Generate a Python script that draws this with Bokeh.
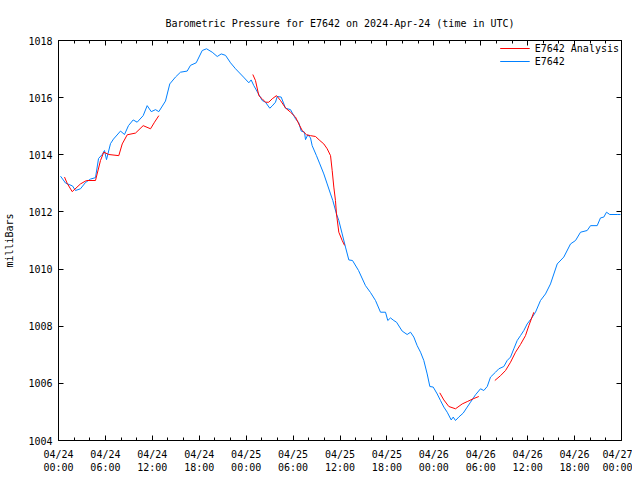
import math
from bokeh.plotting import figure
from bokeh.models import (Range1d, LinearAxis, FixedTicker, Legend, LegendItem,
                          ColumnDataSource, Title)
from bokeh.embed import file_html
from bokeh.resources import INLINE

# ---- data (hours since 2024-04-24 00:00 UTC, pressure in mb) ----
obs_hours = [0.26, 0.9, 1.79, 2.17, 2.81, 3.45, 4.09, 4.73, 5.12, 5.59, 5.88, 6.14, 6.65, 7.03,
             7.93, 8.44, 8.95, 9.55, 10.06, 10.83, 11.34, 11.86, 12.41, 12.83, 13.68, 14.23,
             14.96, 15.6, 16.46, 16.88, 17.61, 18.38, 18.93, 19.66, 20.3, 20.81, 21.36, 22.0,
             22.64, 23.66, 24.34, 24.64, 24.98, 25.62, 26.05, 26.47, 27.02, 27.33, 27.75, 27.97,
             28.48, 29.03, 29.67, 30.31, 30.73, 31.04, 31.46, 31.59, 31.88, 32.23, 32.44, 32.99,
             33.42, 33.93, 34.36, 34.79, 35.08, 35.55, 35.85, 36.28, 36.7, 37.13, 37.6, 38.37,
             39.26, 39.9, 40.54, 41.18, 41.82, 42.11, 42.46, 42.88, 43.23, 43.95, 44.59, 45.02,
             45.44, 45.87, 46.3, 46.72, 47.15, 47.49, 47.92, 48.43, 48.85, 49.28, 49.71, 50.22,
             50.48, 50.77, 51.19, 51.76, 52.27, 52.69, 53.33, 53.97, 54.39, 54.83, 55.25, 55.89,
             56.31, 56.95, 57.38, 57.81, 58.23, 58.66, 59.08, 59.51, 59.94, 60.45, 61.0, 61.64,
             62.28, 62.92, 63.78, 64.62, 65.48, 66.12, 66.76, 67.61, 68.04, 68.89, 69.31, 69.74,
             70.08, 70.5, 71.53, 71.87]
obs_mb = [1013.25, 1013.01, 1012.91, 1012.75, 1012.81, 1013.03, 1013.15, 1013.2, 1013.87, 1014.01,
          1014.15, 1013.83, 1014.39, 1014.55, 1014.83, 1014.71, 1015.02, 1015.22, 1015.14, 1015.37,
          1015.72, 1015.51, 1015.58, 1015.51, 1015.88, 1016.48, 1016.72, 1016.89, 1016.93, 1017.13,
          1017.22, 1017.65, 1017.71, 1017.59, 1017.44, 1017.53, 1017.48, 1017.22, 1017.01, 1016.72,
          1016.52, 1016.62, 1016.42, 1016.11, 1015.9, 1015.84, 1015.63, 1015.71, 1015.84, 1016.04,
          1016.02, 1015.63, 1015.58, 1015.26, 1015.12, 1014.83, 1014.79, 1014.53, 1014.7, 1014.59,
          1014.32, 1013.97, 1013.68, 1013.33, 1012.98, 1012.63, 1012.4, 1011.93, 1011.7, 1011.23,
          1010.77, 1010.32, 1010.3, 1009.95, 1009.42, 1009.18, 1008.9, 1008.49, 1008.49, 1008.2,
          1008.29, 1008.2, 1008.14, 1007.83, 1007.71, 1007.79, 1007.62, 1007.32, 1007.09, 1006.8,
          1006.33, 1005.89, 1005.87, 1005.63, 1005.4, 1005.17, 1004.99, 1004.72, 1004.82, 1004.7,
          1004.82, 1004.96, 1005.17, 1005.34, 1005.6, 1005.81, 1005.75, 1005.89, 1006.22, 1006.39,
          1006.51, 1006.59, 1006.8, 1006.92, 1007.21, 1007.5, 1007.67, 1007.85, 1008.08, 1008.26,
          1008.49, 1008.9, 1009.13, 1009.48, 1010.18, 1010.42, 1010.88, 1011.0, 1011.29, 1011.35,
          1011.52, 1011.52, 1011.79, 1011.82, 1011.99, 1011.91, 1011.91, 1011.91]

# analysis runs (separate segments)
ana1_hours = [0.77, 1.11, 1.75, 2.81, 3.58, 4.73, 5.37, 5.79, 6.43, 7.71, 8.15, 8.79, 9.85,
              10.83, 11.77, 12.28, 12.83]
ana1_mb = [1013.22, 1013.0, 1012.71, 1012.98, 1013.1, 1013.1, 1013.8, 1014.09, 1014.01, 1013.97,
           1014.38, 1014.7, 1014.76, 1015.02, 1014.91, 1015.14, 1015.37]
ana2_hours = [24.85, 25.19, 25.62, 26.05, 26.47, 26.89, 27.33, 27.88, 28.39, 29.03, 29.67, 30.31,
              30.73, 31.17, 31.72, 32.23, 32.87, 33.42, 33.93, 34.36, 34.79, 35.0, 35.21, 35.42,
              35.55, 35.85, 36.28, 36.58]
ana2_mb = [1016.81, 1016.6, 1016.07, 1015.96, 1015.84, 1015.84, 1015.96, 1016.07, 1015.9, 1015.64,
           1015.49, 1015.32, 1015.08, 1014.85, 1014.7, 1014.67, 1014.64, 1014.5, 1014.38, 1014.21,
           1013.97, 1013.45, 1012.87, 1012.4, 1011.93, 1011.29, 1011.0, 1010.83]
ana3_hours = [48.76, 49.28, 49.92, 50.77, 51.63, 52.34, 53.03, 53.75]
ana3_mb = [1005.67, 1005.42, 1005.19, 1005.11, 1005.28, 1005.37, 1005.46, 1005.54]
ana4_hours = [55.8, 56.53, 57.17, 57.81, 58.45, 59.08, 59.72, 60.15, 60.79]
ana4_mb = [1006.1, 1006.27, 1006.45, 1006.74, 1007.09, 1007.36, 1007.67, 1008.02, 1008.49]

x_ticks = [0, 6, 12, 18, 24, 30, 36, 42, 48, 54, 60, 66, 72]
x_tick_labels = ["04/24\n00:00", "04/24\n06:00", "04/24\n12:00", "04/24\n18:00",
                 "04/25\n00:00", "04/25\n06:00", "04/25\n12:00", "04/25\n18:00",
                 "04/26\n00:00", "04/26\n06:00", "04/26\n12:00", "04/26\n18:00",
                 "04/27\n00:00"]
x_minor = list(range(0, 73, 2))
y_ticks = [1004, 1006, 1008, 1010, 1012, 1014, 1016, 1018]

FONT = "DejaVu Sans Mono"

ana_hours = ana1_hours + [math.nan] + ana2_hours + [math.nan] + ana3_hours + [math.nan] + ana4_hours
ana_mb = ana1_mb + [math.nan] + ana2_mb + [math.nan] + ana3_mb + [math.nan] + ana4_mb

p = figure(width=632, height=476, output_backend="svg", toolbar_location=None,
           x_range=Range1d(0, 72), y_range=Range1d(1004, 1018),
           min_border_left=58, min_border_right=11, min_border_top=40, min_border_bottom=36,
           x_axis_label=None, y_axis_label="milliBars")
p.title = Title(text="Barometric Pressure for E7642 on 2024-Apr-24 (time in UTC)",
                align="center", text_font=FONT, text_font_size="10px",
                text_font_style="normal", text_color="black", standoff=23)
p.grid.visible = False
p.outline_line_color = "black"
p.outline_line_width = 1
p.background_fill_color = "white"
p.border_fill_color = "white"

xt = FixedTicker(ticks=x_ticks, minor_ticks=x_minor)
yt = FixedTicker(ticks=y_ticks, minor_ticks=[])

def style_axis(ax, labels=True):
    ax.axis_line_color = None
    ax.major_tick_in = 5
    ax.major_tick_out = 0
    ax.minor_tick_in = 3
    ax.minor_tick_out = 0
    ax.major_tick_line_color = "black"
    ax.minor_tick_line_color = "black"
    ax.major_label_text_font = FONT
    ax.major_label_text_font_size = "10px"
    ax.major_label_text_color = "black"
    ax.major_label_standoff = 8 if labels else 0
    ax.axis_label_text_font = FONT
    ax.axis_label_text_font_size = "10px"
    ax.axis_label_text_font_style = "normal"
    ax.axis_label_text_color = "black"

p.xaxis.ticker = xt
p.xaxis.major_label_overrides = {t: s for t, s in zip(x_ticks, x_tick_labels)}
p.yaxis.ticker = yt
style_axis(p.xaxis[0])
style_axis(p.yaxis[0])
p.yaxis.major_label_standoff = 6
p.yaxis.axis_label_standoff = 10

top = LinearAxis(ticker=xt)
right = LinearAxis(ticker=yt)
style_axis(top, labels=False)
style_axis(right, labels=False)
top.major_label_overrides = {t: "" for t in x_ticks}
right.major_label_overrides = {t: "" for t in y_ticks}
p.add_layout(top, "above")
p.add_layout(right, "right")

src_obs = ColumnDataSource(dict(x=obs_hours, y=obs_mb))
src_ana = ColumnDataSource(dict(x=ana_hours, y=ana_mb))
r_obs = p.line("x", "y", source=src_obs, line_color="#0080ff", line_width=1)
r_ana = p.line("x", "y", source=src_ana, line_color="#ff0000", line_width=1)

legend = Legend(items=[LegendItem(label="E7642 Analysis", renderers=[r_ana]),
                       LegendItem(label="E7642", renderers=[r_obs])],
                location="top_right", border_line_color=None, background_fill_alpha=0,
                label_text_font=FONT, label_text_font_size="10px", label_text_color="black",
                glyph_width=30, glyph_height=12, label_height=12, spacing=1, padding=4, margin=2)
p.add_layout(legend)

open("out.html", "w").write(file_html(p, INLINE))
